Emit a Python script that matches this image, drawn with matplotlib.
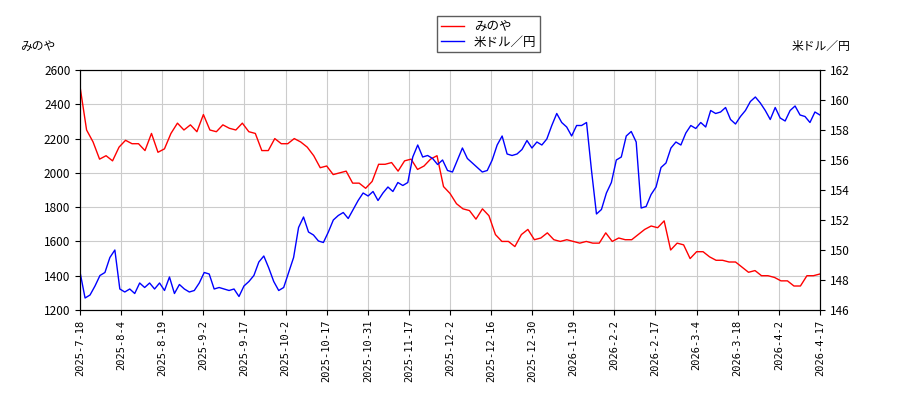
import matplotlib
matplotlib.use("Agg")
import matplotlib.pyplot as plt
import numpy as np

plt.rcParams['font.family'] = ['Noto Sans CJK JP', 'DejaVu Sans']

minoya = [2500, 2250, 2180, 2080, 2100, 2070, 2150, 2190, 2170, 2170, 2130, 2230, 2120, 2140,
          2230, 2290, 2250, 2280, 2240, 2340, 2250, 2240, 2280, 2260, 2250, 2290, 2240, 2230,
          2130, 2130, 2200, 2170, 2170, 2200, 2180, 2150, 2100, 2030, 2040, 1990, 2000, 2010,
          1940, 1940, 1910, 1950, 2050, 2050, 2060, 2010, 2070, 2080, 2020, 2040, 2080, 2100,
          1920, 1880, 1820, 1790, 1780, 1730, 1790, 1750, 1640, 1600, 1600, 1570, 1640, 1670,
          1610, 1620, 1650, 1610, 1600, 1610, 1600, 1590, 1600, 1590, 1590, 1650, 1600, 1620,
          1610, 1610, 1640, 1670, 1690, 1680, 1720, 1550, 1590, 1580, 1500, 1540, 1540, 1510,
          1490, 1490, 1480, 1480, 1450, 1420, 1430, 1400, 1400, 1390, 1370, 1370, 1340, 1340,
          1400, 1400, 1410]

usdjpy = [148.5, 146.8, 147.0, 147.6, 148.3, 148.5, 149.5, 150.0, 147.4, 147.2, 147.4, 147.1,
          147.8, 147.5, 147.8, 147.4, 147.8, 147.3, 148.2, 147.1, 147.7, 147.4, 147.2, 147.3,
          147.8, 148.5, 148.4, 147.4, 147.5, 147.4, 147.3, 147.4, 146.9, 147.6, 147.9, 148.3,
          149.2, 149.6, 148.8, 147.9, 147.3, 147.5, 148.5, 149.5, 151.5, 152.2, 151.2, 151.0,
          150.6, 150.5, 151.2, 152.0, 152.3, 152.5, 152.1, 152.7, 153.3, 153.8, 153.6, 153.9,
          153.3, 153.8, 154.2, 153.9, 154.5, 154.3, 154.5, 156.2, 157.0, 156.2, 156.3, 156.1,
          155.7, 156.0, 155.3, 155.2, 156.0, 156.8, 156.1, 155.8, 155.5, 155.2, 155.3, 156.0,
          157.0, 157.6, 156.4, 156.3, 156.4, 156.7, 157.3, 156.8, 157.2, 157.0, 157.4, 158.3,
          159.1, 158.5, 158.2, 157.6, 158.3, 158.3, 158.5, 155.3, 152.4, 152.7, 153.8, 154.5,
          156.0, 156.2, 157.6, 157.9, 157.2, 152.8, 152.9, 153.7, 154.2, 155.5, 155.8, 156.8,
          157.2, 157.0, 157.8, 158.3, 158.1, 158.5, 158.2, 159.3, 159.1, 159.2, 159.5, 158.7,
          158.4, 158.9, 159.3, 159.9, 160.2, 159.8, 159.3, 158.7, 159.5, 158.8, 158.6, 159.3,
          159.6, 159.0, 158.9, 158.5, 159.2, 159.0]

ticks = ["2025-7-18", "2025-8-4", "2025-8-19", "2025-9-2", "2025-9-17", "2025-10-2",
         "2025-10-17", "2025-10-31", "2025-11-17", "2025-12-2", "2025-12-16", "2025-12-30",
         "2026-1-19", "2026-2-2", "2026-2-17", "2026-3-4", "2026-3-18", "2026-4-2", "2026-4-17"]

n = len(ticks) - 1
x1 = np.linspace(0, n, len(minoya))
x2 = np.linspace(0, n, len(usdjpy))

fig, ax = plt.subplots(figsize=(9, 4), dpi=100)
fig.subplots_adjust(left=0.089, right=0.911, top=0.825, bottom=0.225)
ax2 = ax.twinx()

l1, = ax.plot(x1, minoya, color="red", lw=1, label="みのや")
l2, = ax2.plot(x2, usdjpy, color="blue", lw=1, label="米ドル／円")

ax.set_ylim(1200, 2600)
ax2.set_ylim(146, 162)
ax.set_xlim(0, n)
ax.set_xticks(range(len(ticks)))
ax.set_xticklabels(ticks, rotation=90, fontsize=7.5, family="DejaVu Sans Mono")
ax.tick_params(axis="y", labelsize=8.5)
ax2.tick_params(axis="y", labelsize=8.5)
ax.grid(True, color="#cccccc", lw=0.8)

fig.text(0.022, 0.875, "みのや", fontsize=8.5)
fig.text(0.945, 0.875, "米ドル／円", fontsize=8.5, ha="right")
fig.legend(handles=[l1, l2], loc="upper center", bbox_to_anchor=(0.543, 0.975),
           fontsize=9, frameon=True, edgecolor="#333333", fancybox=False,
           borderpad=0.3, labelspacing=0.2, handlelength=1.8)

fig.savefig("out.png")
